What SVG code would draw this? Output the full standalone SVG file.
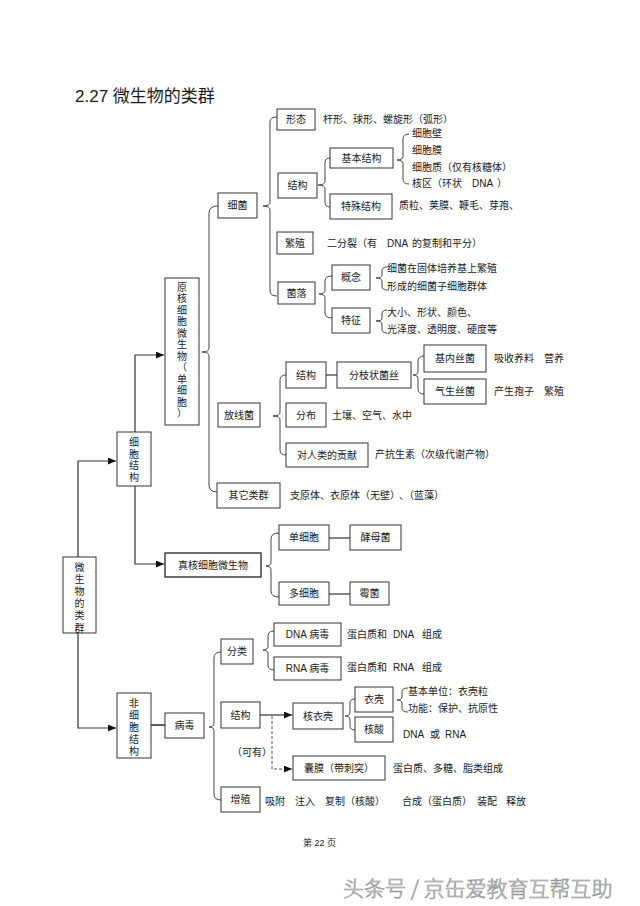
<svg xmlns="http://www.w3.org/2000/svg" width="640" height="906" viewBox="0 0 640 906">
<style>
text{font-family:"Liberation Sans","Noto Sans CJK SC",sans-serif;font-size:10px;fill:#1a1a1a}
.c{text-anchor:middle}
rect{fill:#fff;stroke:#333;stroke-width:1}
.br{fill:none;stroke:#444;stroke-width:1}
.ln{fill:none;stroke:#333;stroke-width:1.2}
.ds{fill:none;stroke:#555;stroke-width:1;stroke-dasharray:3,2}
.title{font-size:17px}
.wm{font-family:"Noto Sans CJK SC",sans-serif;font-size:21px;font-weight:300;fill:#e6e6e6;stroke:#8a8a8a;stroke-width:0.6}
</style>
<defs>
<marker id="ar" markerWidth="8" markerHeight="7" refX="8" refY="3.5" orient="auto" markerUnits="userSpaceOnUse">
<path d="M0,0 L8,3.5 L0,7 z" fill="#111"/>
</marker>
</defs>
<rect x="0" y="0" width="640" height="906" style="fill:#fff;stroke:none"/>
<text class="title" x="75" y="102">2.27 微生物的类群</text>

<g id="connectors">
<path class="ln" d="M135,432 V355 H164" marker-end="url(#ar)"/>
<path class="ln" d="M135,486 V564 H164" marker-end="url(#ar)"/>
<path class="ln" d="M78,557 V461 H116" marker-end="url(#ar)"/>
<path class="ln" d="M78,633 V728 H116" marker-end="url(#ar)"/>
<path class="ln" d="M151,725 H165" style="stroke-width:1.6"/>
<path class="ln" d="M260,715 H292" marker-end="url(#ar)"/>
<path class="ds" d="M272,716 V769 H292" marker-end="url(#ar)"/>
<path class="ln" d="M326,375 H337"/>
<path class="ln" d="M329,538 H350"/>
<path class="ln" d="M329,594 H350"/>
<path class="br" d="M277,117 Q270,117 270,122 V202 Q270,206 263,206 Q270,206 270,210 V291 Q270,296 277,296"/>
<path class="br" d="M330,158 Q325,158 325,163 V181 Q325,185 318,185 Q325,185 325,189 V202 Q325,207 330,207"/>
<path class="br" d="M409,134 Q403,134 403,139 V156 Q403,160 397,160 Q403,160 403,164 V179 Q403,184 409,184"/>
<path class="br" d="M332,276 Q325,276 325,281 V290 Q325,294 319,294 Q325,294 325,298 V313 Q325,318 332,318"/>
<path class="br" d="M387,267 Q382,267 382,271 V275 Q382,278 376,278 Q382,278 382,281 V286 Q382,290 387,290"/>
<path class="br" d="M387,310 Q382,310 382,314 V318 Q382,321 376,321 Q382,321 382,324 V329 Q382,333 387,333"/>
<path class="br" d="M218,206 Q209,206 209,213 V348 Q209,352 202,352 Q209,352 209,356 V485 Q209,492 217,492"/>
<path class="br" d="M286,375 Q280,375 280,380 V412 Q280,416 273,416 Q280,416 280,420 V450 Q280,455 286,455"/>
<path class="br" d="M424,356 Q418,356 418,361 V371 Q418,375 413,375 Q418,375 418,379 V389 Q418,394 424,394"/>
<path class="br" d="M279,533 Q271,533 271,539 V562 Q271,566 266,566 Q271,566 271,570 V591 Q271,597 279,597"/>
<path class="br" d="M221,652 Q214,652 214,658 V723 Q214,727 209,727 Q214,727 214,731 V794 Q214,800 221,800"/>
<path class="br" d="M274,631 Q268,631 268,636 V646 Q268,650 263,650 Q268,650 268,654 V665 Q268,670 274,670"/>
<path class="br" d="M355,699 Q350,699 350,703 V712 Q350,716 345,716 Q350,716 350,720 V726 Q350,730 355,730"/>
<path class="br" d="M408,688 Q402,688 402,692 V697 Q402,700 397,700 Q402,700 402,703 V708 Q402,712 408,712"/>
</g>

<g id="n-root"><rect x="63" y="557" width="33" height="76"/>
<text class="c" x="79.5" y="570.5">微<tspan x="79.5" dy="12.2">生</tspan><tspan x="79.5" dy="12.2">物</tspan><tspan x="79.5" dy="12.2">的</tspan><tspan x="79.5" dy="12.2">类</tspan><tspan x="79.5" dy="12.2">群</tspan></text></g>
<g id="n-cell"><rect x="117" y="432" width="34" height="54"/>
<text class="c" x="134" y="446">细<tspan x="134" dy="11.5">胞</tspan><tspan x="134" dy="11.5">结</tspan><tspan x="134" dy="11.5">构</tspan></text></g>
<g id="n-noncell"><rect x="117" y="693" width="34" height="65"/>
<text class="c" x="134" y="706.5">非<tspan x="134" dy="12.2">细</tspan><tspan x="134" dy="12.2">胞</tspan><tspan x="134" dy="12.2">结</tspan><tspan x="134" dy="12.2">构</tspan></text></g>
<g id="n-prok"><rect x="165" y="278" width="34" height="147"/>
<text class="c" x="182" y="290.5">原<tspan x="182" dy="11.5">核</tspan><tspan x="182" dy="11.5">细</tspan><tspan x="182" dy="11.5">胞</tspan><tspan x="182" dy="11.5">微</tspan><tspan x="182" dy="11.5">生</tspan><tspan x="182" dy="11.5">物</tspan><tspan x="182" dy="11.5">（</tspan><tspan x="182" dy="11.5">单</tspan><tspan x="182" dy="11.5">细</tspan><tspan x="182" dy="11.5">胞</tspan><tspan x="182" dy="11.5">）</tspan></text></g>
<g id="n-euk"><rect x="165" y="553" width="96" height="24" style="stroke-width:1.4"/><text class="c" x="213" y="568.5">真核细胞微生物</text></g>
<g id="n-virus"><rect x="165" y="713" width="39" height="25"/><text class="c" x="184.5" y="729">病毒</text></g>

<g id="n-bact"><rect x="218" y="193" width="39" height="25"/><text class="c" x="237.5" y="209">细菌</text></g>
<g id="n-xt"><rect x="277" y="109" width="38" height="21"/><text class="c" x="296" y="123">形态</text></g>
<text x="323" y="122.5">杆形、球形、螺旋形（弧形）</text>
<g id="n-jg1"><rect x="278" y="173" width="39" height="25"/><text class="c" x="297.5" y="189">结构</text></g>
<g id="n-jbjg"><rect x="330" y="148" width="63" height="20"/><text class="c" x="361.5" y="161.5">基本结构</text></g>
<g id="n-tsjg"><rect x="330" y="194" width="62" height="25"/><text class="c" x="361" y="210">特殊结构</text></g>
<text x="412" y="136.5">细胞壁</text>
<text x="412" y="153.5">细胞膜</text>
<text x="412" y="170.5">细胞质（仅有核糖体）</text>
<text x="412" y="186.5">核区（环状<tspan x="472">DNA</tspan><tspan x="497">）</tspan></text>
<text x="399" y="208.5">质粒、荚膜、鞭毛、芽孢、</text>
<g id="n-fz"><rect x="277" y="232" width="36" height="22"/><text class="c" x="295" y="246.5">繁殖</text></g>
<text x="327" y="246.5">二分裂（有<tspan x="387">DNA</tspan><tspan x="412">的复制和平分）</tspan></text>
<g id="n-jl"><rect x="278" y="282" width="37" height="22"/><text class="c" x="296.5" y="296.5">菌落</text></g>
<g id="n-gn"><rect x="332" y="265" width="38" height="25"/><text class="c" x="351" y="281">概念</text></g>
<g id="n-tz"><rect x="332" y="308" width="38" height="25"/><text class="c" x="351" y="324">特征</text></g>
<text x="387" y="271.5">细菌在固体培养基上繁殖</text>
<text x="387" y="289.5">形成的细菌子细胞群体</text>
<text x="387" y="315.5">大小、形状、颜色、</text>
<text x="387" y="332.5">光泽度、透明度、硬度等</text>

<g id="n-fxj"><rect x="218" y="403" width="42" height="24"/><text class="c" x="239" y="418.5">放线菌</text></g>
<g id="n-jg2"><rect x="286" y="362" width="40" height="26"/><text class="c" x="306" y="378.5">结构</text></g>
<g id="n-fzzjs"><rect x="337" y="362" width="74" height="26"/><text class="c" x="374" y="378.5">分枝状菌丝</text></g>
<g id="n-jnsj"><rect x="424" y="345" width="62" height="27"/><text class="c" x="455" y="362">基内丝菌</text></g>
<g id="n-qssj"><rect x="424" y="379" width="62" height="25"/><text class="c" x="455" y="395">气生丝菌</text></g>
<text x="494" y="361.5">吸收养料<tspan x="544">营养</tspan></text>
<text x="494" y="394.5">产生孢子<tspan x="544">繁殖</tspan></text>
<g id="n-fb"><rect x="286" y="403" width="40" height="24"/><text class="c" x="306" y="418.5">分布</text></g>
<text x="332" y="418.5">土壤、空气、水中</text>
<g id="n-gx"><rect x="286" y="443" width="82" height="24"/><text class="c" x="327" y="458.5">对人类的贡献</text></g>
<text x="375" y="457.5">产抗生素（次级代谢产物）</text>
<g id="n-qt"><rect x="217" y="483" width="63" height="25"/><text class="c" x="248.5" y="499">其它类群</text></g>
<text x="290" y="498.5">支原体、衣原体（无壁）<tspan x="399">、（蓝藻）</tspan></text>

<g id="n-dxb"><rect x="279" y="525" width="50" height="25"/><text class="c" x="304" y="541">单细胞</text></g>
<g id="n-jmj"><rect x="350" y="525" width="51" height="25"/><text class="c" x="375.5" y="541">酵母菌</text></g>
<g id="n-dxb2"><rect x="279" y="582" width="50" height="23"/><text class="c" x="304" y="597">多细胞</text></g>
<g id="n-mj"><rect x="350" y="582" width="39" height="23"/><text class="c" x="369.5" y="597">霉菌</text></g>

<g id="n-fl"><rect x="221" y="639" width="32" height="25"/><text class="c" x="237" y="655">分类</text></g>
<g id="n-dna"><rect x="274" y="623" width="67" height="23"/><text class="c" x="307.5" y="638">DNA  病毒</text></g>
<g id="n-rna"><rect x="274" y="657" width="67" height="23"/><text class="c" x="307.5" y="672">RNA  病毒</text></g>
<text x="347" y="637.5">蛋白质和<tspan x="393">DNA</tspan><tspan x="422">组成</tspan></text>
<text x="347" y="670.5">蛋白质和<tspan x="393">RNA</tspan><tspan x="422">组成</tspan></text>
<g id="n-jg3"><rect x="221" y="702" width="39" height="26"/><text class="c" x="240.5" y="718.5">结构</text></g>
<g id="n-hyk"><rect x="293" y="703" width="50" height="26"/><text class="c" x="318" y="719.5">核衣壳</text></g>
<g id="n-yk"><rect x="355" y="687" width="38" height="25"/><text class="c" x="374" y="703">衣壳</text></g>
<g id="n-hs"><rect x="355" y="717" width="38" height="25"/><text class="c" x="374" y="733">核酸</text></g>
<text x="408" y="694.5">基本单位：衣壳粒</text>
<text x="408" y="711.5">功能：保护、抗原性</text>
<text x="403" y="737.5">DNA<tspan x="430">或</tspan><tspan x="445">RNA</tspan></text>
<text x="232" y="755.5">（可有）</text>
<g id="n-nm"><rect x="293" y="756" width="92" height="24"/><text class="c" x="339" y="771.5">囊膜（带刺突）</text></g>
<text x="393" y="771.5">蛋白质、多糖、脂类组成</text>
<g id="n-zz"><rect x="221" y="787" width="39" height="25"/><text class="c" x="240.5" y="803">增殖</text></g>
<text x="265" y="804.5">吸附<tspan x="295">注入</tspan><tspan x="325">复制（核酸）</tspan><tspan x="402">合成（蛋白质）</tspan><tspan x="477">装配</tspan><tspan x="506">释放</tspan></text>

<text x="303" y="846" style="font-size:9px">第 22 页</text>
<text class="wm" x="343" y="896">头条号 / 京缶爱教育互帮互助</text>
</svg>
